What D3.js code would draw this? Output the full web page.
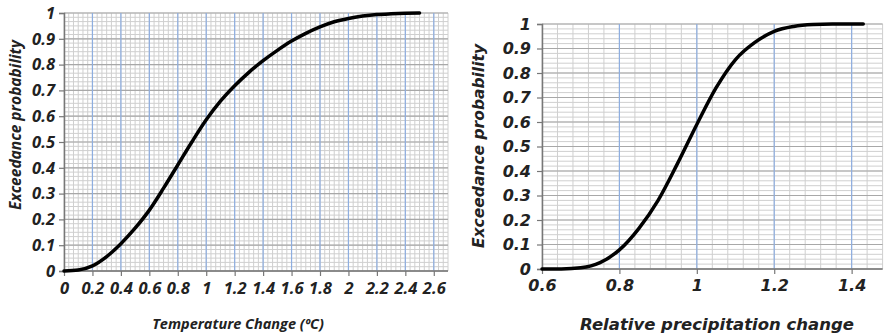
<!DOCTYPE html>
<html>
<head>
<script src="https://cdn.jsdelivr.net/npm/d3@7"></script>
<style>
  body { margin: 0; background: #fff; }
  svg text { font-style: italic; font-weight: bold; fill: #222; }
</style>
</head>
<body>
<div id="viz"></div>
<script>
// left panel: temperature change
var tempX = [0, 0.1, 0.2, 0.3, 0.4, 0.5, 0.6, 0.7, 0.8, 0.9, 1.0, 1.1, 1.2, 1.3, 1.4, 1.5, 1.6, 1.7, 1.8, 1.9, 2.0, 2.1, 2.2, 2.3, 2.4, 2.5];
var tempP = [0, 0.004, 0.02, 0.056, 0.106, 0.166, 0.236, 0.321, 0.411, 0.501, 0.586, 0.658, 0.718, 0.77, 0.815, 0.855, 0.891, 0.921, 0.946, 0.966, 0.979, 0.988, 0.994, 0.997, 0.999, 1.0];
var tempTicks = [0, 0.2, 0.4, 0.6, 0.8, 1, 1.2, 1.4, 1.6, 1.8, 2, 2.2, 2.4, 2.6];

// right panel: relative precipitation change
var precX = [0.6, 0.65, 0.7, 0.75, 0.8, 0.85, 0.9, 0.95, 1.0, 1.05, 1.1, 1.15, 1.2, 1.25, 1.3, 1.35, 1.43];
var precP = [0, 0.0005, 0.005, 0.026, 0.078, 0.165, 0.28, 0.43, 0.59, 0.74, 0.855, 0.925, 0.97, 0.99, 0.998, 1.0, 1.0];
var precTicks = [0.6, 0.8, 1, 1.2, 1.4];

var probTicks = [0, 0.1, 0.2, 0.3, 0.4, 0.5, 0.6, 0.7, 0.8, 0.9, 1];

var svg = d3.select("#viz").append("svg")
    .attr("width", 887)
    .attr("height", 336);

function panel(o) {
    var x = d3.scaleLinear().domain(o.xDomain).range(o.xRange);
    var y = d3.scaleLinear().domain([0, 1]).range(o.yRange);
    var g = svg.append("g");

    // minor grid
    var xMinor = d3.range(o.xDomain[0], o.xDomain[1] + 1e-9, o.xMinorStep);
    var yMinor = d3.range(0, 1 + 1e-9, o.yMinorStep);
    g.selectAll(".vmin").data(xMinor).enter().append("line")
        .attr("x1", function(d) { return x(d); }).attr("x2", function(d) { return x(d); })
        .attr("y1", y(0)).attr("y2", y(1))
        .style("stroke", "#cfcfcf").style("stroke-width", 1);
    g.selectAll(".hmin").data(yMinor).enter().append("line")
        .attr("x1", x.range()[0]).attr("x2", x.range()[1])
        .attr("y1", function(d) { return y(d); }).attr("y2", function(d) { return y(d); })
        .style("stroke", "#cfcfcf").style("stroke-width", 1);
    // major horizontal grid
    g.selectAll(".hmaj").data(probTicks).enter().append("line")
        .attr("x1", x.range()[0]).attr("x2", x.range()[1])
        .attr("y1", function(d) { return y(d); }).attr("y2", function(d) { return y(d); })
        .style("stroke", "#a8a8a8").style("stroke-width", 1.2);
    // major vertical grid (blue)
    g.selectAll(".vmaj").data(o.xTicks.slice(1)).enter().append("line")
        .attr("x1", function(d) { return x(d); }).attr("x2", function(d) { return x(d); })
        .attr("y1", y(0)).attr("y2", y(1))
        .style("stroke", "#8eaee0").style("stroke-width", 1.2);

    // axes
    var xAxis = g.append("g").attr("transform", "translate(0," + y(0) + ")")
        .call(d3.axisBottom(x).tickValues(o.xTicks).tickFormat(d3.format("~g")).tickSize(5).tickPadding(6));
    var yAxis = g.append("g").attr("transform", "translate(" + x.range()[0] + ",0)")
        .call(d3.axisLeft(y).tickValues(probTicks).tickFormat(d3.format("~g")).tickSize(5).tickPadding(o.yPad));
    [xAxis, yAxis].forEach(function(a) {
        a.select(".domain").style("stroke", "#777").style("stroke-width", 1.5);
        a.selectAll(".tick line").style("stroke", "#777").style("stroke-width", 1.2);
        a.selectAll("text").style("font-family", o.font).style("font-size", o.tickSize + "px")
            .style("font-style", "italic").style("font-weight", "bold").style("fill", "#222");
    });
    xAxis.select(".domain").attr("d", "M" + x.range()[0] + ",0H" + x.range()[1]);

    // curve
    var pts = o.xs.map(function(d, i) { return [d, o.ps[i]]; });
    g.append("path").datum(pts)
        .attr("d", d3.line().x(function(d) { return x(d[0]); }).y(function(d) { return y(d[1]); }).curve(d3.curveMonotoneX))
        .style("fill", "none").style("stroke", "#000").style("stroke-width", 3.5)
        .style("stroke-linecap", "round");

    // titles
    g.append("text").attr("x", o.xTitlePos[0]).attr("y", o.xTitlePos[1])
        .attr("text-anchor", "middle").style("font-family", o.font).style("font-size", o.xTitleSize + "px")
        .text(o.xTitle);
    g.append("text").attr("transform", "translate(" + o.yTitlePos[0] + "," + o.yTitlePos[1] + ") rotate(-90)")
        .attr("text-anchor", "middle").style("font-family", o.font).style("font-size", o.yTitleSize + "px")
        .text("Exceedance probability");
}

panel({
    xDomain: [0, 2.7], xRange: [64, 448], yRange: [271, 13],
    xMinorStep: 0.2 / 6, yMinorStep: 0.1 / 6,
    xTicks: tempTicks, xs: tempX, ps: tempP,
    font: "Open Sans", tickSize: 16.5, yPad: 4,
    xTitle: "Temperature Change (\u00baC)", xTitlePos: [238, 329], xTitleSize: 14.5,
    yTitlePos: [21, 125], yTitleSize: 15.5
});

panel({
    xDomain: [0.6, 1.48], xRange: [542, 882.6], yRange: [269, 24],
    xMinorStep: 0.04, yMinorStep: 0.02,
    xTicks: precTicks, xs: precX, ps: precP,
    font: "DejaVu Sans", tickSize: 16, yPad: 6,
    xTitle: "Relative precipitation change", xTitlePos: [717, 330], xTitleSize: 16.5,
    yTitlePos: [484, 146], yTitleSize: 15.5
});
</script>
</body>
</html>
